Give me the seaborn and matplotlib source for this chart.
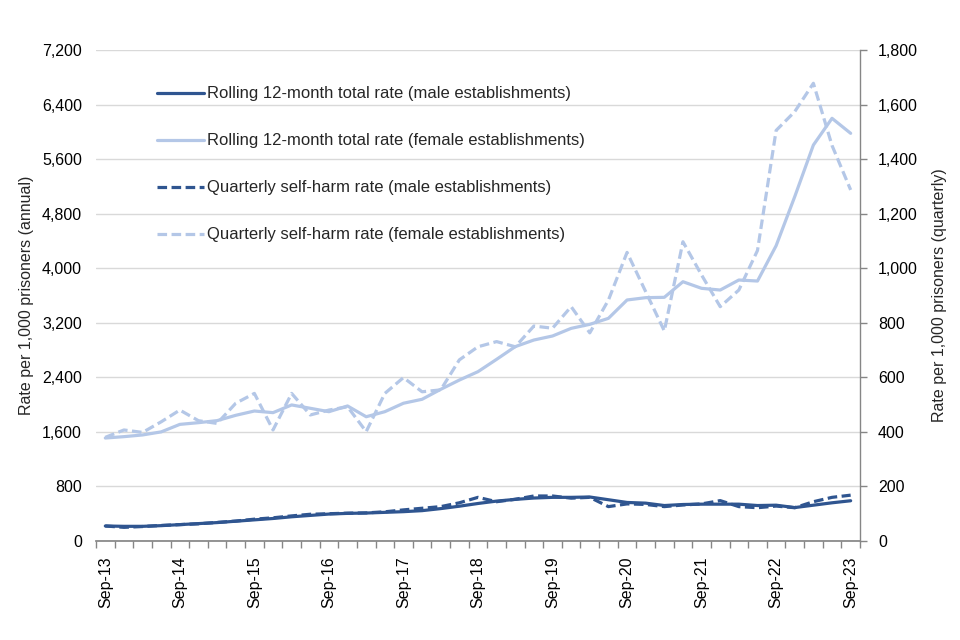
import matplotlib

matplotlib.use("Agg")
import matplotlib.pyplot as plt
import seaborn as sns
from matplotlib.ticker import FuncFormatter, FixedLocator

# quarterly periods, Sep-13 .. Sep-23
quarters = []
for y in range(13, 24):
    for m, dy in (("Sep", 0), ("Dec", 0), ("Mar", 1), ("Jun", 1)):
        quarters.append(f"{m}-{y + dy:02d}")
quarters = quarters[:41]

# rolling 12-month rate per 1,000 prisoners (annual, left axis)
rolling_male = [220, 215, 215, 225, 240, 255, 270, 290, 310, 330, 355, 375, 395, 405, 410, 420,
                430, 445, 475, 510, 550, 585, 610, 630, 640, 640, 645, 605, 565, 555, 520, 535,
                540, 540, 540, 520, 525, 490, 525, 560, 590]
rolling_female = [1510, 1530, 1555, 1600, 1710, 1735, 1765, 1843, 1906, 1882, 1995, 1946, 1896, 1980,
                  1822, 1896, 2020, 2078, 2224, 2360, 2483, 2664, 2850, 2947, 3006, 3118, 3177, 3265,
                  3534, 3568, 3573, 3802, 3705, 3680, 3827, 3812, 4330, 5050, 5806, 6198, 5978]

# quarterly self-harm rate per 1,000 prisoners (right axis)
quarterly_male = [55, 50, 53, 57, 60, 63, 68, 73, 80, 85, 92, 98, 100, 102, 103, 107, 114, 120, 126,
                  140, 160, 144, 153, 165, 165, 157, 160, 126, 136, 134, 126, 132, 136, 148, 126, 122,
                  128, 122, 144, 160, 168]
quarterly_female = [380, 407, 398, 437, 480, 441, 431, 505, 541, 407, 541, 462, 480, 492, 401, 541,
                    599, 547, 554, 664, 712, 731, 712, 788, 780, 859, 763, 883, 1058, 914, 770, 1097,
                    975, 859, 920, 1065, 1505, 1574, 1678, 1450, 1287]

labels = [
    "Rolling 12-month total rate (male establishments)",
    "Rolling 12-month total rate (female establishments)",
    "Quarterly self-harm rate (male establishments)",
    "Quarterly self-harm rate (female establishments)",
]

DARK = "#2F5590"
LIGHT = "#B4C7E7"
GRID = "#D9D9D9"
AXIS = "#868686"

sns.set_theme(style="white")
plt.rcParams["font.family"] = ["Liberation Sans", "DejaVu Sans"]

x = list(range(len(quarters)))

fig = plt.figure(figsize=(9.6, 6.4), dpi=100)
ax = fig.add_axes([0.1, 0.1547, 0.7958, 0.7672])
ax2 = ax.twinx()

dash = (0, (3, 1.4))
sns.lineplot(x=x, y=rolling_male, ax=ax, color=DARK, linewidth=2.3)
sns.lineplot(x=x, y=rolling_female, ax=ax, color=LIGHT, linewidth=2.3)
sns.lineplot(x=x, y=quarterly_male, ax=ax2, color=DARK, linewidth=2.3, linestyle=dash)
sns.lineplot(x=x, y=quarterly_female, ax=ax2, color=LIGHT, linewidth=2.3, linestyle=dash)

ax.set_xlim(-0.5, len(quarters) - 0.5)
ax.set_ylim(0, 7200)
ax2.set_ylim(0, 1800)
ax.set_yticks(range(0, 7201, 800))
ax2.set_yticks(range(0, 1801, 200))
fmt = FuncFormatter(lambda v, _: f"{int(v):,}")
ax.yaxis.set_major_formatter(fmt)
ax2.yaxis.set_major_formatter(fmt)

ax.grid(axis="y", color=GRID, linewidth=1)
ax.set_axisbelow(True)

major = list(range(0, len(quarters), 4))
ax.xaxis.set_major_locator(FixedLocator(major))
ax.set_xticklabels([quarters[i] for i in major], rotation=90)
ax.xaxis.set_minor_locator(FixedLocator([i - 0.5 for i in range(len(quarters) + 1)]))
ax.tick_params(axis="x", which="major", length=0, pad=11, labelsize=11.5, colors="#000000")
ax.tick_params(axis="x", which="minor", length=5, width=1, color=AXIS, bottom=True)
ax.tick_params(axis="y", length=0, pad=10, labelsize=11.5, colors="#000000")
ax2.tick_params(axis="y", length=5, width=1, color=AXIS, pad=8, labelsize=11.5, labelcolor="#000000")

for side in ("top", "left", "right"):
    ax.spines[side].set_visible(False)
for side in ("top", "left", "bottom"):
    ax2.spines[side].set_visible(False)
ax.spines["bottom"].set_color(AXIS)
ax2.spines["right"].set_color(AXIS)
ax2.spines["right"].set_linewidth(1)

ax.set_xlabel("")
ax.set_ylabel("Rate per 1,000 prisoners (annual)", fontsize=11.5, labelpad=6)
ax2.set_ylabel("Rate per 1,000 prisoners (quarterly)", fontsize=11.5, labelpad=10)

handles = ax.get_lines()[:2] + ax2.get_lines()[:2]
leg = ax2.legend(handles, labels, loc="upper left", bbox_to_anchor=(0.1635, 0.865),
                 bbox_transform=fig.transFigure, frameon=False, fontsize=12,
                 labelspacing=1.92, handlelength=2.85, handletextpad=0.15,
                 borderpad=0, borderaxespad=0)
if ax.get_legend() is not None:
    ax.get_legend().remove()

fig.savefig("out.png", dpi=100)
